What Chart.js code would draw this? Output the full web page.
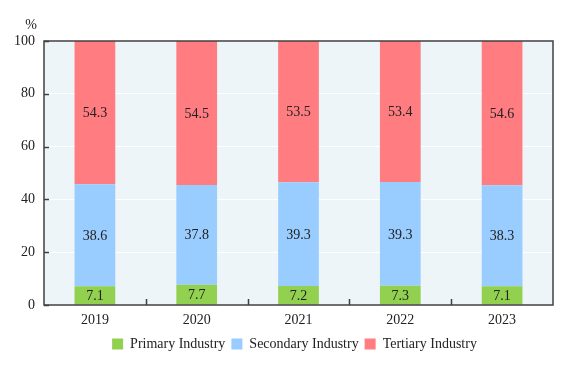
<!DOCTYPE html>
<html>
<head>
<meta charset="utf-8">
<script src="https://cdn.jsdelivr.net/npm/chart.js@4/dist/chart.umd.min.js"></script>
<style>
  html, body { margin: 0; padding: 0; background: #ffffff; }
  #wrap { width: 573px; height: 367px; }
</style>
</head>
<body>
<div id="wrap"><canvas id="chart"></canvas></div>
<script>
// Industry structure (% share) by year
const years = ['2019', '2020', '2021', '2022', '2023'];
const primary = [7.1, 7.7, 7.2, 7.3, 7.1];
const secondary = [38.6, 37.8, 39.3, 39.3, 38.3];
const tertiary = [54.3, 54.5, 53.5, 53.4, 54.6];
const yTicks = [0, 20, 40, 60, 80, 100];

const FONT = '"Liberation Serif", "Times New Roman", serif';
const TEXT = '#222222';

// Plot background, frame, inward ticks, value labels and the "%" unit
const decorPlugin = {
  id: 'decor',
  afterLayout(chart) {
    // nudge legend to sit where the original does
    if (chart.legend) {
      chart.legend.left += 18;
      chart.legend.right += 18;
    }
  },
  beforeDraw(chart) {
    const { ctx, chartArea: a } = chart;
    ctx.save();
    ctx.fillStyle = '#EDF5F9';
    ctx.fillRect(a.left, a.top, a.right - a.left, a.bottom - a.top);
    ctx.restore();
  },
  afterDatasetsDraw(chart) {
    const { ctx, chartArea: a, scales } = chart;
    ctx.save();
    // value labels centred in each segment
    ctx.font = '14px ' + FONT;
    ctx.fillStyle = TEXT;
    ctx.textAlign = 'center';
    ctx.textBaseline = 'middle';
    chart.data.datasets.forEach((ds, di) => {
      chart.getDatasetMeta(di).data.forEach((bar, i) => {
        const p = bar.getProps(['x', 'y', 'base'], true);
        ctx.fillText(ds.data[i].toFixed(1), p.x, (p.y + p.base) / 2 + 1);
      });
    });
    // frame
    ctx.strokeStyle = '#404040';
    ctx.lineWidth = 1.5;
    ctx.strokeRect(a.left, a.top, a.right - a.left, a.bottom - a.top);
    // y ticks, pointing inward
    ctx.beginPath();
    yTicks.forEach(v => {
      const y = Math.round(scales.y.getPixelForValue(v)) + 0.5;
      ctx.moveTo(a.left, y);
      ctx.lineTo(a.left + 5, y);
    });
    // x ticks between categories, pointing up
    for (let i = 1; i < years.length; i++) {
      const x = Math.round((scales.x.getPixelForValue(i - 1) + scales.x.getPixelForValue(i)) / 2) + 0.5;
      ctx.moveTo(x, a.bottom);
      ctx.lineTo(x, a.bottom - 6);
    }
    ctx.stroke();
    // unit
    ctx.font = '14px ' + FONT;
    ctx.fillStyle = TEXT;
    ctx.fillText('%', 31, 25);
    ctx.restore();
  }
};

new Chart(document.getElementById('chart'), {
  type: 'bar',
  data: {
    labels: years,
    datasets: [
      { label: 'Primary Industry', data: primary, backgroundColor: '#92D050' },
      { label: 'Secondary Industry', data: secondary, backgroundColor: '#99CCFF' },
      { label: 'Tertiary Industry', data: tertiary, backgroundColor: '#FF7C80' }
    ]
  },
  options: {
    responsive: true,
    maintainAspectRatio: false,
    animation: false,
    layout: { padding: { left: 0, right: 20, top: 41, bottom: 6 } },
    datasets: {
      bar: { categoryPercentage: 1, barPercentage: 0.4, borderWidth: 0 }
    },
    plugins: {
      legend: {
        position: 'bottom',
        labels: {
          font: { family: FONT, size: 14 },
          color: TEXT,
          boxWidth: 11,
          boxHeight: 11,
          padding: 6
        }
      },
      tooltip: { enabled: false }
    },
    scales: {
      x: {
        stacked: true,
        grid: { display: false, drawTicks: false },
        border: { display: false },
        ticks: { font: { family: FONT, size: 14 }, color: TEXT, padding: 7 },
        afterFit(scale) { scale.height = 26; }
      },
      y: {
        stacked: true,
        min: 0,
        max: 100,
        afterBuildTicks(scale) { scale.ticks = yTicks.map(v => ({ value: v })); },
        grid: { color: '#ffffff', lineWidth: 1, drawTicks: false },
        border: { display: false },
        ticks: { font: { family: FONT, size: 14 }, color: TEXT, padding: 9 },
        afterFit(scale) { scale.width = 44; }
      }
    }
  },
  plugins: [decorPlugin]
});
</script>
</body>
</html>
